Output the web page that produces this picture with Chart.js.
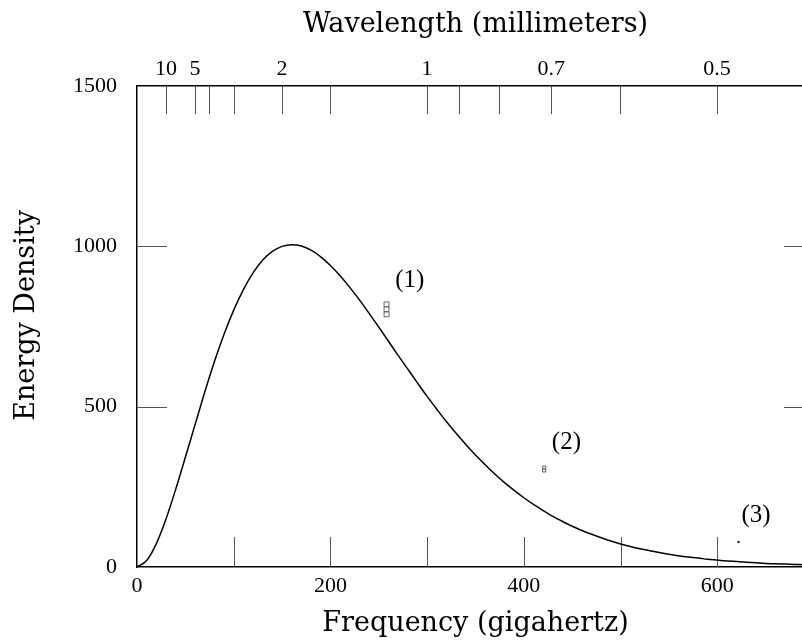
<!DOCTYPE html>
<html>
<head>
<meta charset="utf-8">
<script src="https://cdn.jsdelivr.net/npm/chart.js@4/dist/chart.umd.min.js"></script>
<style>
  html, body { margin: 0; padding: 0; background: #fff; overflow: hidden; }
  #wrap { width: 830px; height: 643px; }
</style>
</head>
<body>
<div id="wrap"><canvas id="chart" width="830" height="643"></canvas></div>
<script>
// black body curve, every 10 GHz
const curveFreq = [0, 10, 20, 30, 40, 50, 60, 70, 80, 90, 100, 110, 120, 130, 140, 150, 160, 170, 180, 190,
  200, 210, 220, 230, 240, 250, 260, 270, 280, 290, 300, 310, 320, 330, 340, 350, 360, 370, 380, 390,
  400, 410, 420, 430, 440, 450, 460, 470, 480, 490, 500, 510, 520, 530, 540, 550, 560, 570, 580, 590,
  600, 610, 620, 630, 640, 650, 660, 670, 680, 690, 700]
const curveEnergy = [0, 20, 73, 150, 242, 342, 444, 545, 640, 726, 801, 865, 917, 957, 984, 1000, 1005, 1001, 988, 967,
  940, 908, 872, 833, 791, 748, 704, 660, 617, 574, 532, 492, 453, 417, 382, 349, 319, 290, 263, 239,
  216, 195, 176, 158, 142, 127, 114, 102, 91, 81, 72, 64, 57, 51, 45, 40, 35, 31, 28, 24,
  21.5, 19, 17, 15, 13, 11, 10, 9, 8, 7, 6]

// de tre maalinger
const obsNames = ['(1)', '(2)', '(3)']
const obsFreq = [258, 421, 622]
const obs1Energy = [819, 804, 788]
const obs2Energy = [310, 301]
const obs3Energy = [78]
// hvor teksten (1), (2), (3) sidder
const noteFreq = [282, 444, 640]
const noteEnergy = [894, 389, 162]

// akser
const freqTicks = [0, 100, 200, 300, 400, 500, 600, 700]
const freqLabels = [0, 200, 400, 600]
const energyTicks = [0, 500, 1000, 1500]
const wavelengthTicks = [10, 5, 4, 3, 2, 1.5, 1, 0.9, 0.8, 0.7, 0.6, 0.5]
const wavelengthLabels = [10, 5, 2, 1, 0.7, 0.5]

const C = 299.79 // mm * GHz
const tickFont = { family: 'Liberation Serif', size: 22 }
const titleFont = { family: 'DejaVu Serif', size: 27 }

// small ticks pointing into the plot
const inwardTicks = {
  id: 'inwardTicks',
  beforeDatasetsDraw(chart) {
    const { ctx, chartArea: a, scales } = chart
    ctx.save()
    ctx.strokeStyle = '#555'
    ctx.lineWidth = 1
    ctx.beginPath()
    freqTicks.forEach(f => {
      if (f <= 0 || f >= 700) return
      const px = Math.round(scales.x.getPixelForValue(f)) + 0.5
      ctx.moveTo(px, a.bottom); ctx.lineTo(px, a.bottom - 30)
    })
    wavelengthTicks.forEach(w => {
      const px = Math.round(scales.xTop.getPixelForValue(C / w)) + 0.5
      ctx.moveTo(px, a.top); ctx.lineTo(px, a.top + 28)
    })
    energyTicks.forEach(e => {
      if (e <= 0 || e >= 1500) return
      const py = Math.round(scales.y.getPixelForValue(e)) + 0.5
      ctx.moveTo(a.left, py); ctx.lineTo(a.left + 30, py)
      ctx.moveTo(a.right, py); ctx.lineTo(a.right - 30, py)
    })
    ctx.stroke()
    ctx.restore()
  }
}

// tekst ved maalingerne
const notes = {
  id: 'notes',
  afterDatasetsDraw(chart) {
    const { ctx, scales } = chart
    ctx.save()
    ctx.fillStyle = '#000'
    ctx.font = '25px "Liberation Serif"'
    ctx.textAlign = 'center'
    ctx.textBaseline = 'middle'
    obsNames.forEach((name, i) => {
      ctx.fillText(name, scales.x.getPixelForValue(noteFreq[i]), scales.y.getPixelForValue(noteEnergy[i]))
    })
    ctx.restore()
  }
}

Chart.defaults.color = '#000'

new Chart(document.getElementById('chart'), {
  type: 'scatter',
  data: {
    datasets: [
      {
        label: 'curve',
        data: curveFreq.map((f, i) => ({ x: f, y: curveEnergy[i] })),
        showLine: true,
        borderColor: '#000',
        borderWidth: 1.5,
        pointRadius: 0,
        cubicInterpolationMode: 'monotone'
      },
      {
        label: obsNames[0],
        data: obs1Energy.map(e => ({ x: obsFreq[0], y: e })),
        pointStyle: 'rect',
        pointRadius: 3.5,
        borderColor: '#666',
        borderWidth: 1,
        backgroundColor: 'rgba(255,255,255,0)'
      },
      {
        label: obsNames[1],
        data: obs2Energy.map(e => ({ x: obsFreq[1], y: e })),
        pointStyle: 'rect',
        pointRadius: 2.2,
        borderColor: '#666',
        borderWidth: 1,
        backgroundColor: 'rgba(255,255,255,0)'
      },
      {
        label: obsNames[2],
        data: obs3Energy.map(e => ({ x: obsFreq[2], y: e })),
        pointRadius: 1.3,
        borderWidth: 0,
        backgroundColor: '#333'
      }
    ]
  },
  options: {
    responsive: false,
    animation: false,
    layout: { padding: 0 },
    plugins: { legend: { display: false }, tooltip: { enabled: false } },
    scales: {
      x: {
        type: 'linear', position: 'bottom', min: 0, max: 700,
        afterBuildTicks: s => { s.ticks = freqTicks.map(v => ({ value: v })) },
        afterFit: s => { s.height = 76 },
        grid: { display: false, drawTicks: false },
        border: { display: true, color: '#000', width: 1.5 },
        ticks: {
          font: tickFont, padding: 6, autoSkip: false, maxRotation: 0,
          callback: v => freqLabels.includes(v) ? String(v) : ''
        },
        title: { display: true, text: 'Frequency (gigahertz)', font: titleFont, padding: { top: 0, bottom: 3 } }
      },
      xTop: {
        type: 'linear', axis: 'x', position: 'top', min: 0, max: 700,
        afterBuildTicks: s => { s.ticks = wavelengthTicks.map(w => ({ value: C / w })) },
        afterFit: s => { s.height = 86 },
        grid: { display: false, drawTicks: false },
        border: { display: true, color: '#000', width: 1.5 },
        ticks: {
          font: tickFont, padding: 4, autoSkip: false, maxRotation: 0,
          callback: (v, i) => wavelengthLabels.includes(wavelengthTicks[i]) ? String(wavelengthTicks[i]) : ''
        },
        title: { display: true, text: 'Wavelength (millimeters)', font: titleFont, padding: { top: 9, bottom: 0 } }
      },
      y: {
        type: 'linear', position: 'left', min: 0, max: 1500,
        afterBuildTicks: s => { s.ticks = energyTicks.map(v => ({ value: v })) },
        afterFit: s => { s.width = 137 },
        grid: { display: false, drawTicks: false },
        border: { display: true, color: '#000', width: 1.5 },
        ticks: { font: tickFont, padding: 20, callback: v => String(v) },
        // en space + space in front lifts the label a little, like the original
        title: { display: true, text: '\u2002 Energy Density', font: titleFont, padding: { top: 11, bottom: 0 } }
      },
      yRight: {
        type: 'linear', axis: 'y', position: 'right', min: 0, max: 1500,
        afterFit: s => { s.width = 16 },
        grid: { display: false, drawTicks: false },
        border: { display: true, color: '#000', width: 1.5 },
        ticks: { display: false }
      }
    }
  },
  plugins: [inwardTicks, notes]
})
</script>
</body>
</html>
